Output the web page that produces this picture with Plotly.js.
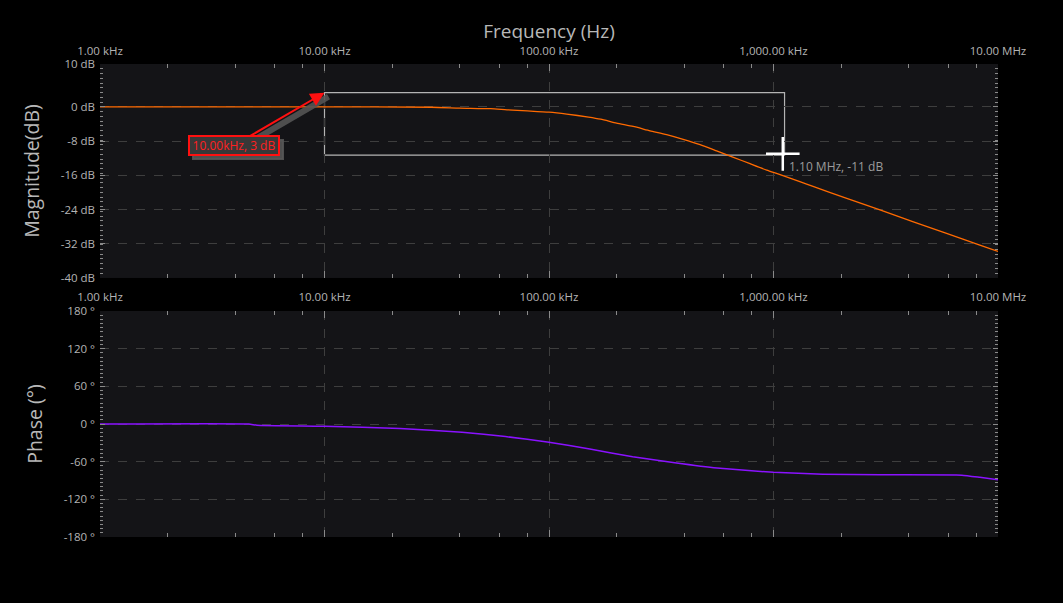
<!DOCTYPE html>
<html>
<head>
<meta charset="utf-8">
<script src="https://cdn.plot.ly/plotly-3.0.1.min.js"></script>
<style>
  html, body { margin: 0; padding: 0; background: #000; }
  #chart { width: 1063px; height: 603px; }
</style>
</head>
<body>
<div id="chart"></div>
<script>
// ---- data ----
const magFreqHz = [1000, 10000, 30000, 40000, 55000, 65000, 80000, 100000, 120000, 150000, 170000, 200000, 237000, 282000, 334000, 396000, 471000, 558000, 663000, 786000, 933000, 1070000, 1310000, 1500000, 2120000, 2980000, 4200000, 5900000, 8300000, 10000000];
const magDb      = [0, 0, -0.1, -0.3, -0.45, -0.7, -0.95, -1.25, -1.7, -2.4, -2.9, -3.8, -4.6, -5.6, -6.5, -7.6, -8.85, -10.3, -11.8, -13.3, -14.8, -15.85, -17.5, -18.6, -21.4, -24.1, -26.9, -29.6, -32.3, -33.8];

const phaseFreqHz = [1000, 4600, 5000, 10000, 21700, 41000, 64000, 100000, 152000, 236000, 363000, 560000, 1000000, 1660000, 3000000, 6900000, 8300000, 10000000];
const phaseDeg    = [0, 0, -2, -3.5, -7, -13, -20, -29, -40, -52, -61.6, -70, -77, -80, -81, -81.5, -85, -89];

const xTickVals  = [1000, 10000, 100000, 1000000, 10000000];
const xTickText  = ['1.00 kHz', '10.00 kHz', '100.00 kHz', '1,000.00 kHz', '10.00 MHz'];
const xMinorVals = [2e3, 4e3, 6e3, 8e3, 2e4, 4e4, 6e4, 8e4, 2e5, 4e5, 6e5, 8e5, 2e6, 4e6, 6e6, 8e6];

const magTickVals  = [10, 0, -8, -16, -24, -32, -40];
const magTickText  = ['10 dB', '0 dB', '-8 dB', '-16 dB', '-24 dB', '-32 dB', '-40 dB'];
const phaseTickVals = [180, 120, 60, 0, -60, -120, -180];
const phaseTickText = ['180 °', '120 °', '60 °', '0 °', '-60 °', '-120 °', '-180 °'];

// markers / annotations
const markerFreqHz = 10000, markerDb = 3.3;
const markerLabel = '10.00kHz, 3 dB';
const cursorFreqHz = 1100000, cursorDb = -11;
const cursorLabel = '1.10 MHz, -11 dB';
const boxCorner2 = {f: 1120000, db: -11.3};

// ---- chart ----
const FONT = '"Open Sans", "Noto Sans", sans-serif';
const tickFont = {family: FONT, size: 11.5, color: '#b4b4b4'};

function xAxis(anchor, standoff) {
  return {
    type: 'log', range: [3, 7], side: 'top', anchor: anchor,
    tickmode: 'array', tickvals: xTickVals, ticktext: xTickText,
    ticks: 'inside', ticklen: 7, tickcolor: '#8a8a8a', tickwidth: 1,
    mirror: 'ticks', showline: false, zeroline: false,
    showgrid: true, gridcolor: '#3e3e3e', griddash: 'dash', gridwidth: 1,
    tickfont: tickFont, ticklabelstandoff: standoff,
    minor: {tickmode: 'array', tickvals: xMinorVals, ticks: 'inside', ticklen: 4, tickcolor: '#8a8a8a', showgrid: false}
  };
}
function yAxis(domain, range, vals, text, minorDt, titleText) {
  return {
    domain: domain, range: range, anchor: domain[0] > 0.1 ? 'x' : 'x2',
    tickmode: 'array', tickvals: vals, ticktext: text,
    ticks: 'inside', ticklen: 5, tickcolor: '#8a8a8a', tickwidth: 1,
    mirror: 'ticks', showline: false, zeroline: false,
    showgrid: true, gridcolor: '#3e3e3e', griddash: 'dash', gridwidth: 1,
    tickfont: tickFont, ticklabelstandoff: 4,
    minor: {tickmode: 'linear', tick0: range[0], dtick: minorDt, ticks: 'inside', ticklen: 3, tickcolor: '#8a8a8a', showgrid: false},
    title: {text: titleText, font: {family: FONT, size: 19.5, color: '#b8b8b8'}, standoff: 15}
  };
}

const traces = [
  {x: magFreqHz, y: magDb, xaxis: 'x', yaxis: 'y', type: 'scatter', mode: 'lines',
   line: {color: '#ff6a00', width: 1.3, shape: 'spline', smoothing: 0.6}, hoverinfo: 'skip'},
  {x: phaseFreqHz, y: phaseDeg, xaxis: 'x2', yaxis: 'y2', type: 'scatter', mode: 'lines',
   line: {color: '#8a12ff', width: 1.5, shape: 'spline', smoothing: 0.4}, hoverinfo: 'skip'},
  // cursor crosshair
  {x: [cursorFreqHz], y: [cursorDb], xaxis: 'x', yaxis: 'y', type: 'scatter', mode: 'markers',
   marker: {symbol: 'cross-thin-open', size: 24, color: '#ffffff', line: {color: '#ffffff', width: 2.5}},
   hoverinfo: 'skip'}
];

const shadow = 'rgba(85,85,85,0.9)';
const layout = {
  width: 1063, height: 603,
  paper_bgcolor: '#000', plot_bgcolor: '#141417',
  showlegend: false,
  margin: {l: 100, r: 65, t: 64, b: 66},
  title: {text: 'Frequency (Hz)', font: {family: FONT, size: 19, color: '#b8b8b8'},
          xref: 'paper', x: 0.5, xanchor: 'center', yref: 'container', y: 1 - 31 / 603, yanchor: 'middle'},
  xaxis: xAxis('y', 6),
  xaxis2: xAxis('y2', 7),
  yaxis: yAxis([0.5476, 1], [-40, 10], magTickVals, magTickText, 50 / 45, 'Magnitude(dB)'),
  yaxis2: yAxis([0, 0.4778], [-180, 180], phaseTickVals, phaseTickText, 360 / 54, 'Phase (°)'),
  shapes: [
    {type: 'rect', xref: 'x', yref: 'y', x0: markerFreqHz, x1: boxCorner2.f, y0: markerDb, y1: boxCorner2.db,
     line: {color: '#b4b4b4', width: 1.2}, fillcolor: 'rgba(0,0,0,0)', layer: 'below'}
  ],
  annotations: [
    // drop shadow of marker label box and arrow
    {xref: 'x', yref: 'y', x: Math.log10(markerFreqHz), y: markerDb, text: '\u00a0',
     showarrow: true, arrowhead: 0, arrowwidth: 6, arrowcolor: shadow, ax: -91, ay: 53,
     xshift: 4, yshift: -4, font: {family: FONT, size: 12, color: 'rgba(0,0,0,0)'},
     bgcolor: shadow, bordercolor: shadow, borderwidth: 2, borderpad: 2, width: 84, height: 13},
    {xref: 'x', yref: 'y', x: Math.log10(markerFreqHz), y: markerDb, text: markerLabel,
     showarrow: true, arrowhead: 2, arrowsize: 1.4, arrowwidth: 2, arrowcolor: '#ff1010', ax: -91, ay: 53,
     font: {family: FONT, size: 12, color: '#ff2020'},
     bgcolor: '#383838', bordercolor: '#ff1010', borderwidth: 2, borderpad: 2, width: 84, height: 13},
    {xref: 'x', yref: 'y', x: Math.log10(cursorFreqHz), y: cursorDb, text: cursorLabel,
     showarrow: false, xanchor: 'left', yanchor: 'middle', xshift: 4, yshift: -13,
     font: {family: FONT, size: 12, color: '#9c9c9c'}}
  ]
};

Plotly.newPlot('chart', traces, layout, {staticPlot: true, displayModeBar: false});
</script>
</body>
</html>
